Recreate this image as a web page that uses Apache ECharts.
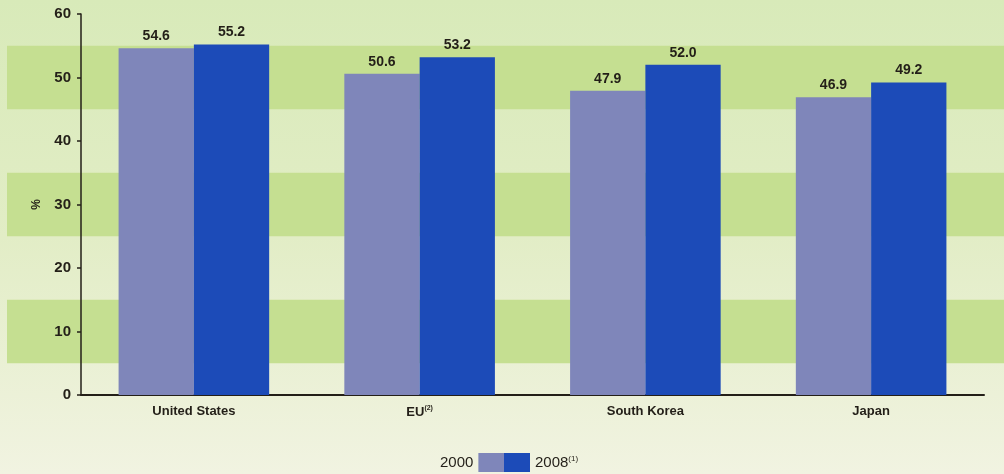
<!DOCTYPE html>
<html>
<head>
<meta charset="utf-8">
<script src="https://cdn.jsdelivr.net/npm/echarts@6/dist/echarts.min.js"></script>
<style>
  html, body { margin: 0; padding: 0; }
  #chart {
    width: 1004px; height: 474px;
    background: linear-gradient(to bottom, #d8eab9 0%, #e2edc6 50%, #f1f3e1 100%);
  }
</style>
</head>
<body>
<div id="chart"></div>
<script>
// Share of population (%), by economy
const categories = ['United States', 'EU', 'South Korea', 'Japan'];
const values2000 = [54.6, 50.6, 47.9, 46.9];
const values2008 = [55.2, 53.2, 52.0, 49.2];
const yTicks = [0, 10, 20, 30, 40, 50, 60];
// Shaded horizontal bands [from, to] in axis units
const bands = [[5, 15], [25, 35], [45, 55]];

const textColor = '#231f18';
const font = '"Liberation Sans", Arial, sans-serif';

const chart = echarts.init(document.getElementById('chart'), null, { renderer: 'canvas' });

chart.setOption({
  backgroundColor: 'transparent',
  animation: false,
  textStyle: { fontFamily: font },
  grid: { left: 81, right: 20, top: 14, bottom: 79, containLabel: false },
  legend: [
    {
      data: ['2000'], align: 'right', left: 440, top: 453, padding: 0,
      itemWidth: 26, itemHeight: 19, icon: 'rect',
      itemStyle: { borderWidth: 0 },
      textStyle: { fontSize: 15, color: textColor, fontFamily: font },
      selectedMode: false
    },
    {
      data: ['2008'], align: 'left', left: 504, top: 453, padding: 0,
      itemWidth: 26, itemHeight: 19, icon: 'rect',
      itemStyle: { borderWidth: 0 },
      formatter: n => '{a|' + n + '}{s|(1)}',
      textStyle: {
        fontSize: 15, color: textColor, fontFamily: font,
        rich: {
          a: { fontSize: 15, color: textColor, fontFamily: font },
          s: { fontSize: 8, color: textColor, fontFamily: font, padding: [0, 0, 8, 0] }
        }
      },
      selectedMode: false
    }
  ],
  xAxis: {
    type: 'category',
    data: categories,
    axisLine: { show: true, lineStyle: { color: textColor, width: 2 } },
    axisTick: { show: false },
    axisLabel: {
      margin: 10,
      formatter: v => v === 'EU' ? '{b|EU}{s|(2)}' : '{b|' + v + '}',
      rich: {
        b: { fontSize: 13, fontWeight: 'bold', color: textColor, fontFamily: font },
        s: { fontSize: 7, fontWeight: 'bold', color: textColor, fontFamily: font, padding: [0, 0, 7, 0] }
      }
    }
  },
  yAxis: {
    type: 'value',
    min: yTicks[0], max: yTicks[yTicks.length - 1], interval: 10,
    name: '%',
    nameLocation: 'middle',
    nameRotate: 90,
    nameGap: 38,
    nameTextStyle: { fontSize: 12, fontWeight: 'bold', color: textColor, fontFamily: font },
    axisLine: { show: true, lineStyle: { color: textColor, width: 1.5 } },
    axisTick: { show: true, length: 4, lineStyle: { color: textColor, width: 1.5 } },
    splitLine: { show: false },
    axisLabel: { fontSize: 15, fontWeight: 'bold', color: textColor, margin: 10, fontFamily: font }
  },
  series: [
    {
      type: 'custom',
      name: 'bands',
      z: -1,
      silent: true,
      clip: false,
      encode: { x: 0, y: [1, 2] },
      data: bands.map(b => [0, b[0], b[1]]),
      renderItem: (params, api) => {
        const yTop = api.coord([0, api.value(2)])[1];
        const yBot = api.coord([0, api.value(1)])[1];
        return {
          type: 'rect',
          shape: { x: 7, y: yTop, width: api.getWidth() - 7, height: yBot - yTop },
          style: { fill: '#c5df91' }
        };
      }
    },
    {
      name: '2000',
      type: 'bar',
      data: values2000,
      barGap: '0%',
      barCategoryGap: '33.3%',
      itemStyle: { color: '#7f86ba' },
      label: {
        show: true, position: 'top', distance: 5,
        formatter: p => p.value.toFixed(1),
        fontSize: 14, fontWeight: 'bold', color: textColor, fontFamily: font
      }
    },
    {
      name: '2008',
      type: 'bar',
      data: values2008,
      barGap: '0%',
      barCategoryGap: '33.3%',
      itemStyle: { color: '#1c4bb8' },
      label: {
        show: true, position: 'top', distance: 5,
        formatter: p => p.value.toFixed(1),
        fontSize: 14, fontWeight: 'bold', color: textColor, fontFamily: font
      }
    }
  ]
});
</script>
</body>
</html>
